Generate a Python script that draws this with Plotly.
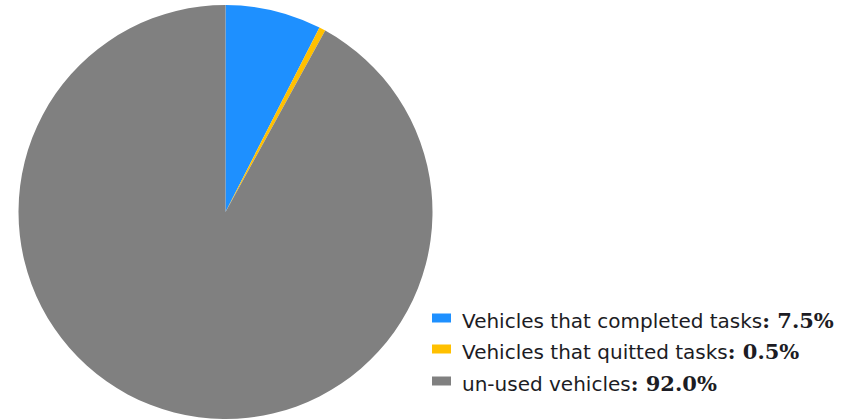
import plotly.graph_objects as go

# Share of vehicles by task status
categories = ["Vehicles that completed tasks", "Vehicles that quitted tasks", "un-used vehicles"]
values = [7.5, 0.5, 92.0]
colors = ["#1E90FF", "#FFC000", "#808080"]

W, H = 841, 419

fig = go.Figure(
    go.Pie(
        labels=categories,
        values=values,
        marker=dict(colors=colors, line=dict(width=0)),
        sort=False,
        direction="clockwise",
        rotation=0,
        textinfo="none",
        hoverinfo="label+percent",
        showlegend=False,
        domain=dict(x=[18 / W, 433 / W], y=[0, 1 - 5 / H]),
    )
)

# Hand-built legend: wide colour swatches with label and bold value
row_y = [318, 349, 381]          # swatch centres, px from top
sw_x0, sw_x1, sw_h = 432, 451, 9
text_x = 460
for cat, val, col, yc in zip(categories, values, colors, row_y):
    fig.add_shape(
        type="rect", xref="paper", yref="paper",
        x0=sw_x0 / W, x1=sw_x1 / W,
        y0=1 - (yc + sw_h / 2) / H, y1=1 - (yc - sw_h / 2) / H,
        fillcolor=col, line=dict(width=0),
    )
    fig.add_annotation(
        xref="paper", yref="paper",
        x=text_x / W, y=1 - (yc + 2) / H,
        xanchor="left", yanchor="middle",
        showarrow=False,
        text=(
            f"{cat}<span style=\"font-family:'DejaVu Serif'; font-weight:bold; "
            f"font-size:21px\">: {val:.1f}%</span>"
        ),
        font=dict(family="DejaVu Sans", size=20, color="#1c1c24"),
    )

fig.update_layout(
    width=W,
    height=H,
    margin=dict(l=0, r=0, t=0, b=0),
    paper_bgcolor="white",
    plot_bgcolor="white",
)

fig.write_html("out.html")
